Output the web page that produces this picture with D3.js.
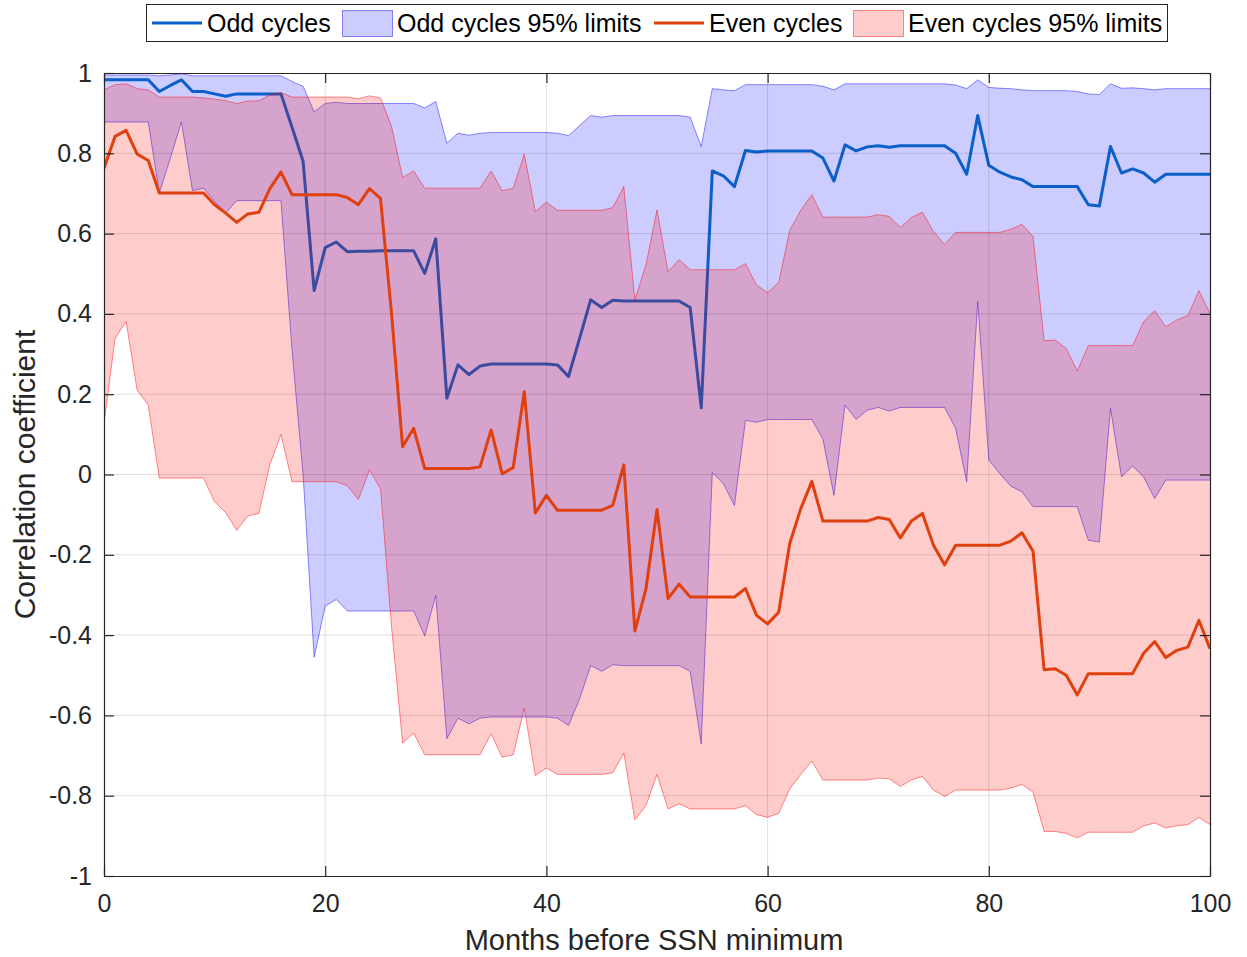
<!DOCTYPE html>
<html>
<head>
<meta charset="utf-8">
<script src="https://cdn.jsdelivr.net/npm/d3@7"></script>
<style>
  body { margin: 0; background: #fff; }
  text { font-family: "Liberation Sans", Arial, sans-serif; fill: #262626; }
</style>
</head>
<body>
<div id="chart"></div>
<script>
// months before SSN minimum (0..100)
var months = d3.range(0, 101);

var oddMean = [
    0.983, 0.983, 0.983, 0.983, 0.983, 0.954, 0.969, 0.983, 0.954, 0.954,
    0.948, 0.942, 0.948, 0.948, 0.948, 0.948, 0.948, 0.865, 0.780, 0.458,
    0.565, 0.579, 0.555, 0.556, 0.556, 0.557, 0.557, 0.557, 0.557, 0.501,
    0.587, 0.190, 0.273, 0.249, 0.270, 0.275, 0.275, 0.275, 0.275, 0.275,
    0.275, 0.273, 0.244, 0.339, 0.435, 0.416, 0.434, 0.432, 0.432, 0.432,
    0.432, 0.432, 0.432, 0.416, 0.166, 0.756, 0.744, 0.717, 0.807, 0.803,
    0.806, 0.806, 0.806, 0.806, 0.806, 0.788, 0.731, 0.821, 0.806, 0.816,
    0.819, 0.815, 0.819, 0.819, 0.819, 0.819, 0.819, 0.800, 0.748, 0.894,
    0.770, 0.753, 0.741, 0.734, 0.717, 0.717, 0.717, 0.717, 0.717, 0.672,
    0.669, 0.817, 0.751, 0.761, 0.751, 0.728, 0.748, 0.748, 0.748, 0.748,
    0.748
];

var oddUpper = [
    0.995, 0.995, 0.995, 0.995, 0.995, 0.993, 0.995, 0.998, 0.993, 0.993,
    0.993, 0.993, 0.993, 0.993, 0.993, 0.993, 0.993, 0.979, 0.967, 0.903,
    0.924, 0.927, 0.924, 0.924, 0.924, 0.924, 0.924, 0.924, 0.924, 0.913,
    0.929, 0.825, 0.850, 0.845, 0.850, 0.852, 0.852, 0.852, 0.852, 0.852,
    0.852, 0.850, 0.844, 0.869, 0.894, 0.890, 0.894, 0.894, 0.894, 0.894,
    0.894, 0.894, 0.894, 0.890, 0.817, 0.961, 0.958, 0.956, 0.971, 0.971,
    0.971, 0.971, 0.971, 0.971, 0.971, 0.967, 0.958, 0.973, 0.973, 0.973,
    0.973, 0.973, 0.973, 0.973, 0.973, 0.973, 0.973, 0.970, 0.961, 0.983,
    0.964, 0.962, 0.961, 0.958, 0.956, 0.956, 0.956, 0.956, 0.954, 0.948,
    0.946, 0.973, 0.962, 0.963, 0.961, 0.958, 0.961, 0.961, 0.961, 0.961,
    0.961
];

var oddLower = [
    0.878, 0.878, 0.878, 0.878, 0.878, 0.701, 0.788, 0.878, 0.707, 0.713,
    0.680, 0.651, 0.682, 0.682, 0.682, 0.682, 0.682, 0.310, 0.000, -0.455,
    -0.328, -0.311, -0.340, -0.340, -0.340, -0.340, -0.340, -0.340, -0.340, -0.402,
    -0.301, -0.658, -0.607, -0.621, -0.607, -0.604, -0.604, -0.604, -0.604, -0.604,
    -0.604, -0.607, -0.625, -0.559, -0.476, -0.490, -0.474, -0.476, -0.476, -0.476,
    -0.476, -0.476, -0.476, -0.490, -0.671, 0.005, -0.023, -0.077, 0.135, 0.130,
    0.137, 0.137, 0.137, 0.137, 0.137, 0.088, -0.052, 0.173, 0.137, 0.160,
    0.167, 0.158, 0.167, 0.167, 0.167, 0.167, 0.167, 0.115, -0.018, 0.431,
    0.036, 0.002, -0.029, -0.043, -0.080, -0.080, -0.080, -0.080, -0.080, -0.164,
    -0.168, 0.165, -0.006, 0.021, -0.006, -0.060, -0.014, -0.014, -0.014, -0.014,
    -0.014
];

var evenMean = [
    0.763, 0.842, 0.857, 0.798, 0.782, 0.701, 0.701, 0.701, 0.701, 0.701,
    0.672, 0.651, 0.628, 0.649, 0.653, 0.712, 0.753, 0.697, 0.697, 0.697,
    0.697, 0.697, 0.690, 0.672, 0.712, 0.688, 0.400, 0.069, 0.115, 0.015,
    0.015, 0.015, 0.015, 0.015, 0.019, 0.111, 0.002, 0.017, 0.206, -0.096,
    -0.052, -0.089, -0.089, -0.089, -0.089, -0.089, -0.077, 0.024, -0.390, -0.285,
    -0.087, -0.309, -0.273, -0.305, -0.305, -0.305, -0.305, -0.305, -0.284, -0.351,
    -0.372, -0.343, -0.172, -0.085, -0.017, -0.116, -0.116, -0.116, -0.116, -0.116,
    -0.107, -0.112, -0.158, -0.116, -0.097, -0.176, -0.225, -0.176, -0.176, -0.176,
    -0.176, -0.176, -0.166, -0.145, -0.191, -0.486, -0.484, -0.500, -0.549, -0.496,
    -0.496, -0.496, -0.496, -0.496, -0.445, -0.416, -0.456, -0.438, -0.430, -0.363,
    -0.434
];

var evenUpper = [
    0.958, 0.971, 0.973, 0.961, 0.958, 0.940, 0.940, 0.940, 0.940, 0.938,
    0.935, 0.931, 0.924, 0.930, 0.931, 0.945, 0.951, 0.940, 0.940, 0.940,
    0.940, 0.940, 0.940, 0.936, 0.943, 0.938, 0.867, 0.740, 0.756, 0.713,
    0.713, 0.713, 0.713, 0.713, 0.713, 0.756, 0.707, 0.713, 0.798, 0.655,
    0.678, 0.658, 0.658, 0.658, 0.658, 0.658, 0.665, 0.717, 0.435, 0.522,
    0.659, 0.505, 0.535, 0.510, 0.510, 0.510, 0.510, 0.510, 0.525, 0.472,
    0.453, 0.478, 0.608, 0.658, 0.697, 0.641, 0.641, 0.641, 0.641, 0.641,
    0.647, 0.643, 0.615, 0.640, 0.653, 0.605, 0.573, 0.603, 0.603, 0.603,
    0.603, 0.603, 0.611, 0.623, 0.593, 0.333, 0.335, 0.314, 0.258, 0.321,
    0.321, 0.321, 0.321, 0.321, 0.381, 0.408, 0.368, 0.385, 0.396, 0.458,
    0.401
];

var evenLower = [
    0.127, 0.339, 0.381, 0.210, 0.173, -0.009, -0.009, -0.009, -0.009, -0.009,
    -0.068, -0.095, -0.139, -0.103, -0.097, 0.025, 0.100, -0.018, -0.018, -0.018,
    -0.018, -0.018, -0.028, -0.062, 0.011, -0.035, -0.380, -0.669, -0.644, -0.698,
    -0.698, -0.698, -0.698, -0.698, -0.698, -0.646, -0.704, -0.698, -0.582, -0.750,
    -0.731, -0.747, -0.747, -0.747, -0.747, -0.747, -0.743, -0.694, -0.860, -0.825,
    -0.747, -0.833, -0.820, -0.833, -0.833, -0.833, -0.833, -0.833, -0.825, -0.847,
    -0.854, -0.844, -0.783, -0.747, -0.714, -0.761, -0.761, -0.761, -0.761, -0.761,
    -0.756, -0.758, -0.777, -0.761, -0.752, -0.786, -0.802, -0.786, -0.786, -0.786,
    -0.786, -0.786, -0.781, -0.772, -0.791, -0.889, -0.889, -0.894, -0.905, -0.891,
    -0.891, -0.891, -0.891, -0.891, -0.875, -0.868, -0.880, -0.875, -0.872, -0.854,
    -0.872
];

var xTicks = [0, 20, 40, 60, 80, 100];
var yTicks = [-1, -0.8, -0.6, -0.4, -0.2, 0, 0.2, 0.4, 0.6, 0.8, 1];
var legendLabels = ['Odd cycles', 'Odd cycles 95% limits', 'Even cycles', 'Even cycles 95% limits'];

function createChart(elementId) {

    var width = 1247;
    var height = 957;
    var margins = { top: 73, right: 37, bottom: 81, left: 104 };
    var innerWidth = width - margins.left - margins.right;
    var innerHeight = height - margins.top - margins.bottom;

    var axisColor = '#262626';
    var oddColor = '#0a5fc8';
    var evenColor = '#e0400e';

    var svg = d3.select(elementId)
        .append('svg')
        .attr('width', width)
        .attr('height', height);

    var g = svg.append('g')
        .attr('transform', 'translate(' + margins.left + ',' + margins.top + ')');

    var x = d3.scaleLinear().domain([0, 100]).range([0, innerWidth]);
    var y = d3.scaleLinear().domain([-1, 1]).range([innerHeight, 0]);

    var band = function(lower, upper) {
        return d3.area()
            .x(function(d) { return x(d); })
            .y0(function(d, i) { return y(lower[i]); })
            .y1(function(d, i) { return y(upper[i]); });
    };
    var edge = function(vals) {
        return d3.line()
            .x(function(d) { return x(d); })
            .y(function(d, i) { return y(vals[i]); });
    };

    g.append('defs').append('clipPath').attr('id', 'plot-clip')
        .append('rect').attr('width', innerWidth).attr('height', innerHeight);

    var plot = g.append('g').attr('clip-path', 'url(#plot-clip)');

    // odd cycles band + line
    plot.append('path')
        .attr('d', band(oddLower, oddUpper)(months))
        .style('fill', '#0000ff').style('fill-opacity', 0.2).style('stroke', 'none');
    [oddUpper, oddLower].forEach(function(vals) {
        plot.append('path')
            .attr('d', edge(vals)(months))
            .style('fill', 'none').style('stroke', '#0000ff')
            .style('stroke-opacity', 0.45).style('stroke-width', 1);
    });
    plot.append('path')
        .attr('d', edge(oddMean)(months))
        .style('fill', 'none').style('stroke', oddColor)
        .style('stroke-width', 3).style('stroke-linejoin', 'round');

    // even cycles band + line
    plot.append('path')
        .attr('d', band(evenLower, evenUpper)(months))
        .style('fill', '#ff0000').style('fill-opacity', 0.2).style('stroke', 'none');
    [evenUpper, evenLower].forEach(function(vals) {
        plot.append('path')
            .attr('d', edge(vals)(months))
            .style('fill', 'none').style('stroke', '#ff0000')
            .style('stroke-opacity', 0.45).style('stroke-width', 1);
    });
    plot.append('path')
        .attr('d', edge(evenMean)(months))
        .style('fill', 'none').style('stroke', evenColor)
        .style('stroke-width', 3).style('stroke-linejoin', 'round');

    // grid on top, like matlab
    var grid = g.append('g').attr('class', 'grid');
    grid.selectAll('.gx').data(xTicks.slice(1, -1)).enter().append('line')
        .attr('x1', function(d) { return x(d); }).attr('x2', function(d) { return x(d); })
        .attr('y1', 0).attr('y2', innerHeight)
        .style('stroke', '#000').style('stroke-opacity', 0.12).style('stroke-width', 1);
    grid.selectAll('.gy').data(yTicks.slice(1, -1)).enter().append('line')
        .attr('x1', 0).attr('x2', innerWidth)
        .attr('y1', function(d) { return y(d); }).attr('y2', function(d) { return y(d); })
        .style('stroke', '#000').style('stroke-opacity', 0.12).style('stroke-width', 1);

    // axes (ticks inside, box all round)
    var fmt = function(d) { return d3.format('')(+d.toFixed(1)).replace('−', '-'); };
    var xAxis = g.append('g').attr('transform', 'translate(0,' + innerHeight + ')')
        .call(d3.axisBottom(x).tickValues(xTicks).tickSizeInner(-10).tickSizeOuter(0).tickPadding(18));
    var xAxisTop = g.append('g')
        .call(d3.axisTop(x).tickValues(xTicks).tickSizeInner(-10).tickSizeOuter(0).tickFormat(''));
    var yAxis = g.append('g')
        .call(d3.axisLeft(y).tickValues(yTicks).tickSizeInner(-10).tickSizeOuter(0).tickPadding(12)
            .tickFormat(function(d) { return fmt(d); }));
    var yAxisRight = g.append('g').attr('transform', 'translate(' + innerWidth + ',0)')
        .call(d3.axisRight(y).tickValues(yTicks).tickSizeInner(-10).tickSizeOuter(0).tickFormat(''));

    [xAxis, xAxisTop, yAxis, yAxisRight].forEach(function(ax) {
        ax.selectAll('path').style('stroke', axisColor).style('stroke-width', 1.2);
        ax.selectAll('line').style('stroke', axisColor).style('stroke-width', 1.2);
        ax.selectAll('text').style('font-size', '25px').style('fill', axisColor)
            .style('font-family', '"Liberation Sans", Arial, sans-serif');
    });

    // axis titles
    g.append('text')
        .attr('x', innerWidth / 2 - 3)
        .attr('y', innerHeight + 74)
        .attr('text-anchor', 'middle')
        .style('font-size', '29px')
        .text('Months before SSN minimum');

    g.append('text')
        .attr('transform', 'translate(' + (-69) + ',' + (innerHeight / 2) + ') rotate(-90)')
        .attr('text-anchor', 'middle')
        .style('font-size', '30px')
        .text('Correlation coefficient');

    // legend
    var legend = svg.append('g').attr('class', 'legend');
    legend.append('rect')
        .attr('x', 146.5).attr('y', 4.5)
        .attr('width', 1021).attr('height', 37)
        .style('fill', '#fff').style('stroke', axisColor).style('stroke-width', 1);

    var items = [
        { label: legendLabels[0], type: 'line', color: oddColor, x: 152 },
        { label: legendLabels[1], type: 'patch', color: '#0000ff', x: 342 },
        { label: legendLabels[2], type: 'line', color: evenColor, x: 654 },
        { label: legendLabels[3], type: 'patch', color: '#ff0000', x: 853 }
    ];
    items.forEach(function(it) {
        if (it.type === 'line') {
            legend.append('line')
                .attr('x1', it.x).attr('x2', it.x + 50)
                .attr('y1', 23).attr('y2', 23)
                .style('stroke', it.color).style('stroke-width', 3);
        } else {
            legend.append('rect')
                .attr('x', it.x + 0.5).attr('y', 10.5)
                .attr('width', 50).attr('height', 26)
                .style('fill', it.color).style('fill-opacity', 0.2)
                .style('stroke', it.color).style('stroke-opacity', 0.45);
        }
        legend.append('text')
            .attr('x', it.x + 55)
            .attr('y', 32)
            .style('font-size', '25px')
            .style('fill', '#000')
            .text(it.label);
    });
}

createChart('#chart');
</script>
</body>
</html>
